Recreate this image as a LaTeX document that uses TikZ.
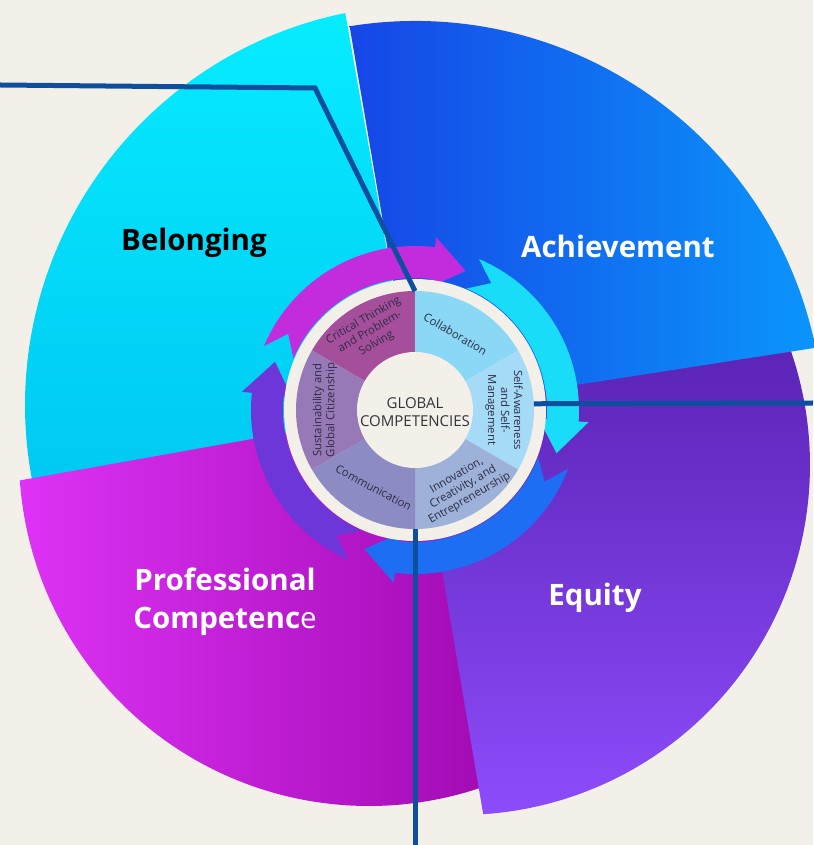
\documentclass[tikz,border=0pt]{standalone}
\usepackage{fontspec}
\setmainfont{Open Sans}
\usepackage{tikz}

% colours of the picture
\definecolor{bgcream}{HTML}{F3F0EA}
\definecolor{linkblue}{HTML}{0D4F9E}
\definecolor{belongtop}{HTML}{06ECFF}
\definecolor{belongbot}{HTML}{00C8F2}
\definecolor{achleft}{HTML}{1646E6}
\definecolor{achright}{HTML}{0B95FB}
\definecolor{equitytop}{HTML}{5A22B4}
\definecolor{equitybot}{HTML}{8D4CFB}
\definecolor{profleft}{HTML}{DE32F6}
\definecolor{profright}{HTML}{A10AB2}
\definecolor{arrmag}{HTML}{C22CDC}
\definecolor{arrcyan}{HTML}{18DCF8}
\definecolor{arrblue}{HTML}{1E6EF4}
\definecolor{arrpurple}{HTML}{6C36D8}
\definecolor{segCrit}{HTML}{A54F9C}
\definecolor{segCollab}{HTML}{8AD8F5}
\definecolor{segSelf}{HTML}{A6DBF8}
\definecolor{segInnov}{HTML}{9DB1D9}
\definecolor{segComm}{HTML}{8D8BC3}
\definecolor{segSust}{HTML}{9679B6}
\definecolor{segtext}{HTML}{2C2C44}
\definecolor{hubtext}{HTML}{333338}

% curved arrow of the ring: tail angle, tip angle, colour
\newcommand{\ringarrow}[3]{%
	\fill[#3] (#1:\arrout) arc[start angle=#1, end angle=#2+13, radius=\arrout]
	-- (#2+13:\arrout+10) -- (#2:\arrmid) -- (#2+13:\arrin-8)
	-- (#2+13:\arrin) arc[start angle=#2+13, end angle=#1, radius=\arrin]
	-- (#1-8:\arrmid) -- cycle;}

\begin{document}
\begin{tikzpicture}[x=1pt,y=1pt]
	\tikzset{
		biglabel/.style={font=\fontsize{29.5}{38}\selectfont\bfseries, align=center},
		seglabel/.style={font=\fontsize{11.3}{13}\selectfont, text=segtext, align=center, inner sep=0pt},
		link/.style={linkblue, line width=5pt}
	}
	
	% Radii of the wheel
	\def\arrin{132}
	\def\arrout{164}
	\def\arrmid{148}
	\def\segr{119}
	\def\hubr{58}
	
	% Background
	\useasboundingbox (-415,-435) rectangle (398,410);
	\fill[bgcream] (-415,-435) rectangle (398,410);
	
	% Outer sectors
	\shade[top color=belongtop, bottom color=belongbot] (0,0) -- ([shift={(10,5)}]101.5:400) arc[start angle=101.5, end angle=193, radius=400] -- cycle;
	\shade[left color=profleft, right color=profright] (0,0) -- ([shift={(-46,-46)}]184:350) arc[start angle=184, end angle=291, radius=350] -- cycle;
	\shade[top color=equitytop, bottom color=equitybot] (0,0) -- ([shift={(45,-55)}]-86.2:350) arc[start angle=-86.2, end angle=22.4, radius=350] -- cycle;
	\shade[left color=achleft, right color=achright] (0,0) -- ([shift={(0,-20)}]99.2:409) arc[start angle=99.2, end angle=11.6, radius=409] -- cycle;
	
	% Sector labels
	\node[biglabel, text=black] (belonging) at (-221,167) {Belonging};
	\node[biglabel, text=white] (achievement) at (203,164) {Achievement};
	\node[biglabel, text=white] (equity) at (180,-188) {Equity};
	\node[biglabel, text=white] (profcomp) at (-190,-192) {Professional\\Competenc{\mdseries e}};
	
	% Ring of arrows
	\ringarrow{157}{70}{arrmag}
	\ringarrow{67}{-17}{arrcyan}
	\ringarrow{-21}{-110}{arrblue}
	\ringarrow{246}{161}{arrpurple}
	
	% Cream ring and the six competencies
	\fill[bgcream] (0,0) circle (131);
	\foreach \a/\c in {90/segCrit, 30/segCollab, -30/segSelf, -90/segInnov, 210/segComm, 150/segSust}
	{
		\fill[\c] (0,0) -- (\a:\segr) arc[start angle=\a, end angle=\a+60, radius=\segr] -- cycle;
	}
	\fill[bgcream] (0,0) circle (\hubr);
	\node[circle, minimum size=238pt, inner sep=0pt, outer sep=0pt] (wheel) at (0,0) {};
	
	% Labels of the competencies
	\node[font=\fontsize{15}{18}\selectfont, text=hubtext, align=center] (hub) at (0,-2) {GLOBAL\\COMPETENCIES};
	\node[seglabel, rotate=30] (sCrit) at (120:90) {Critical Thinking\\and Problem-\\Solving};
	\node[seglabel, rotate=-30] (sCollab) at (62:86) {Collaboration};
	\node[seglabel, rotate=-90] (sSelf) at (0:89) {Self-Awareness\\and Self-\\Management};
	\node[seglabel, rotate=30] (sInnov) at (-58:91) {Innovation,\\Creativity, and\\Entrepreneurship};
	\node[seglabel, rotate=-28] (sComm) at (-118:88) {Communication};
	\node[seglabel, rotate=90] (sSust) at (180:90) {Sustainability and\\Global Citizenship};
	
	% Connectors
	\coordinate (westEnd) at (-415,325);
	\coordinate (westBend) at (-100,322);
	\coordinate (eastEnd) at (398,7);
	\coordinate (southEnd) at (0,-435);
	\draw[link] (westEnd) -- (westBend) -- (wheel.90);
	\draw[link] (wheel.3) -- (eastEnd);
	\draw[link] (wheel.-90) -- (southEnd);
	
\end{tikzpicture}
\end{document}
